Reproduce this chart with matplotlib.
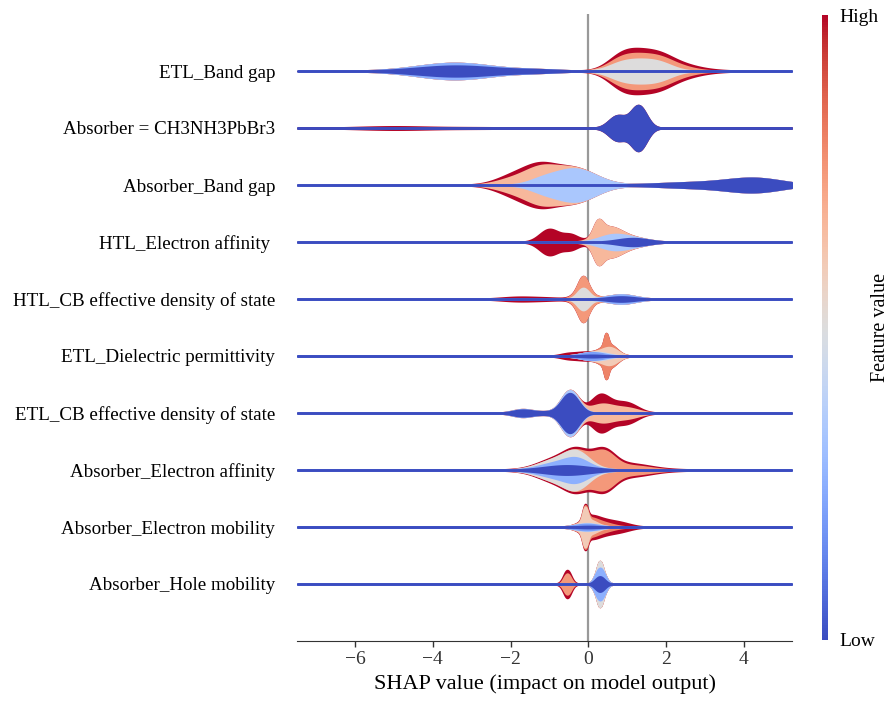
import numpy as np
import matplotlib
matplotlib.use("Agg")
import matplotlib.pyplot as plt
from matplotlib.colors import Normalize
from matplotlib import cm

plt.rcParams['font.family'] = ['Liberation Serif', 'DejaVu Serif']

# Features, listed from bottom (position 0) to top
feature_names = [
    "Absorber_Hole mobility",
    "Absorber_Electron mobility",
    "Absorber_Electron affinity",
    "ETL_CB effective density of state",
    "ETL_Dielectric permittivity",
    "HTL_CB effective density of state",
    "HTL_Electron affinity ",
    "Absorber_Band gap",
    "Absorber = CH3NH3PbBr3",
    "ETL_Band gap",
]

# Each feature: list of feature-value layers (low -> high); each layer is a list of
# density components (SHAP centre, spread, relative density).
hole_mobility = [
    [(0.30, 0.12, 7.3)],
    [(0.31, 0.12, 8.4)],
    [(0.30, 0.06, 6.6)],
    [(-0.54, 0.09, 10.0)],
    [(-0.54, 0.13, 3.5)],
]
electron_mobility = [
    [(0.00, 0.30, 1.0)],
    [(-0.05, 0.30, 2.3)],
    [(0.00, 0.25, 0.8)],
    [(-0.08, 0.06, 15.0), (0.02, 0.18, 4.0)],
    [(0.35, 0.30, 4.2)],
    [(0.80, 0.30, 4.5), (0.20, 0.25, 2.8)],
]
absorber_affinity = [
    [(-0.55, 0.60, 4.3)],
    [(-0.30, 0.30, 7.0), (-0.90, 0.40, 3.0)],
    [(-0.30, 0.35, 6.5), (-1.00, 0.40, 2.5)],
    [(0.40, 0.28, 15.0), (1.10, 0.50, 4.0)],
    [(0.30, 1.20, 2.5)],
]
etl_cb_dos = [
    [(-0.47, 0.22, 20.5), (-1.70, 0.25, 3.2), (-1.10, 0.30, 1.2)],
    [(-0.45, 0.25, 3.0), (-1.70, 0.30, 0.5)],
    [(0.35, 0.30, 9.0), (1.00, 0.30, 5.0)],
    [(0.30, 0.22, 10.0), (0.95, 0.30, 5.5)],
]
etl_dielectric = [
    [(0.10, 0.30, 1.0)],
    [(0.10, 0.30, 2.5)],
    [(0.45, 0.20, 1.0)],
    [(0.58, 0.20, 6.5)],
    [(0.46, 0.05, 11.0), (0.50, 0.18, 3.0)],
    [(-0.50, 0.22, 2.5), (-0.15, 0.15, 0.8)],
]
htl_cb_dos = [
    [(0.85, 0.35, 2.4)],
    [(0.85, 0.38, 2.0)],
    [(-0.13, 0.15, 11.0)],
    [(-0.13, 0.10, 5.0), (-0.13, 0.22, 7.0)],
    [(-1.80, 0.45, 2.0), (-1.00, 0.40, 1.0)],
]
htl_affinity = [
    [(1.15, 0.40, 3.8)],
    [(0.60, 0.35, 6.2)],
    [(0.25, 0.12, 13.0), (0.50, 0.30, 8.0)],
    [(-1.00, 0.25, 13.0), (-0.45, 0.20, 7.0)],
]
absorber_band_gap = [
    [(4.30, 0.70, 6.3), (2.80, 1.00, 2.5)],
    [(-0.35, 0.55, 16.5), (-1.20, 0.35, 4.0)],
    [(-1.35, 0.50, 11.5), (-2.10, 0.40, 3.0)],
    [(-1.70, 0.55, 4.5)],
]
absorber_mapbbr3 = [
    [(1.30, 0.20, 21.0), (0.75, 0.22, 11.5)],
    [(-5.00, 0.90, 1.4), (-2.80, 0.90, 0.5)],
]
etl_band_gap = [
    [(-3.40, 1.00, 5.5), (-1.30, 0.60, 1.2)],
    [(-3.50, 0.90, 2.9)],
    [(0.85, 0.35, 7.5), (1.35, 0.35, 7.5), (1.85, 0.35, 7.5)],
    [(0.90, 0.40, 4.5), (1.70, 0.50, 4.5), (2.40, 0.40, 3.0)],
    [(0.90, 0.40, 3.5), (1.60, 0.50, 3.5), (2.60, 0.60, 2.5)],
]

feature_layers = [hole_mobility, electron_mobility, absorber_affinity, etl_cb_dos,
                  etl_dielectric, htl_cb_dos, htl_affinity, absorber_band_gap,
                  absorber_mapbbr3, etl_band_gap]

shap_min, shap_max = -7.49, 5.24
x_ticks = [-6, -4, -2, 0, 2, 4]

fig = plt.figure(figsize=(8.93, 7.02), dpi=100)
ax = fig.add_axes([297.3 / 893, 61 / 702, (791.7 - 297.3) / 893, 627 / 702])
cmap = plt.get_cmap('coolwarm')

x_points = np.linspace(shap_min, shap_max, 800)
width = 0.8
for pos, layers in enumerate(feature_layers):
    n = len(layers)
    ys = np.zeros((n, x_points.size))
    for i, comps in enumerate(layers):
        for c, s, a in comps:
            ys[i] += a * np.exp(-0.5 * ((x_points - c) / s) ** 2)
    ys = np.cumsum(ys, axis=0)
    scale = ys.max() * 2 / width
    for i in range(n - 1, -1, -1):
        y = ys[i] / scale
        col = cmap(i / (n - 1))
        ax.fill_between(x_points, pos - y, pos + y, facecolor=col, edgecolor=col, lw=1.4)

ax.axvline(0, color='#999999', lw=1.6, zorder=-1)

ax.set_xlim(shap_min, shap_max)
ax.set_ylim(-1, len(feature_names))
ax.set_yticks(range(len(feature_names)))
ax.set_yticklabels(feature_names, fontsize=13.7)
ax.set_xticks(x_ticks)
ax.tick_params(axis='y', length=0, pad=16)
ax.tick_params(axis='x', labelsize=14, length=4, width=1, colors='#333333', labelcolor='#333333')
for sp in ['top', 'right', 'left']:
    ax.spines[sp].set_visible(False)
ax.spines['bottom'].set_color('#333333')
ax.set_xlabel('SHAP value (impact on model output)', fontsize=16, labelpad=4)

cax = fig.add_axes([822 / 893, 62 / 702, 6 / 893, 625 / 702])
sm = cm.ScalarMappable(cmap=cmap, norm=Normalize(0, 1))
cb = fig.colorbar(sm, cax=cax, ticks=[0, 1])
cb.set_ticklabels(['Low', 'High'])
cb.outline.set_visible(False)
cb.ax.tick_params(length=0, labelsize=14, pad=8)
cb.set_label('Feature value', fontsize=14.5, labelpad=-5)

fig.savefig('out.png', dpi=100)
